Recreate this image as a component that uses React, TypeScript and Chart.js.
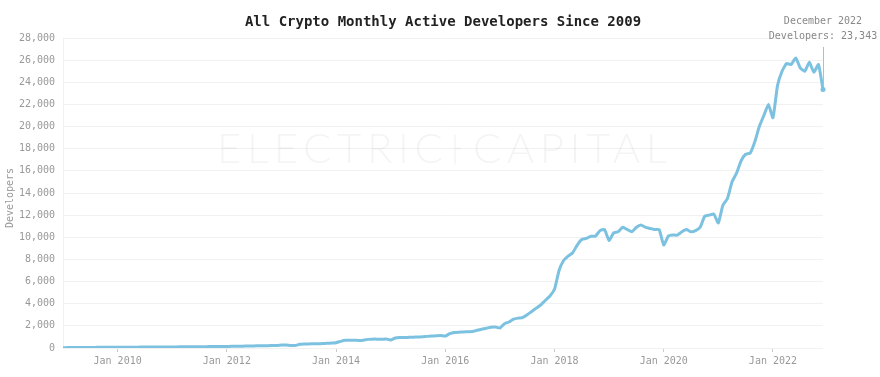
import React, { useEffect, useRef } from "react";
import { Chart, registerables } from "chart.js";

Chart.register(...registerables);

// ---- Data (monthly, Jan 2009 – Dec 2022) ----
const years = [2009, 2010, 2011, 2012, 2013, 2014, 2015, 2016, 2017, 2018, 2019, 2020, 2021, 2022];
const monthNames = ["Jan", "Feb", "Mar", "Apr", "May", "Jun", "Jul", "Aug", "Sep", "Oct", "Nov", "Dec"];
const fullMonthNames = ["January", "February", "March", "April", "May", "June", "July", "August", "September", "October", "November", "December"];

const devs2009 = [30, 35, 38, 40, 45, 48, 50, 55, 58, 60, 62, 65];
const devs2010 = [68, 70, 72, 75, 78, 80, 82, 85, 88, 90, 92, 95];
const devs2011 = [98, 100, 105, 110, 112, 115, 118, 120, 125, 130, 128, 132];
const devs2012 = [140, 150, 160, 165, 170, 180, 190, 195, 200, 210, 220, 230];
const devs2013 = [260, 280, 230, 220, 330, 360, 370, 380, 390, 400, 420, 450];
const devs2014 = [480, 600, 700, 690, 700, 680, 700, 780, 800, 800, 790, 810];
const devs2015 = [730, 900, 950, 940, 960, 980, 1000, 1010, 1050, 1080, 1100, 1120];
const devs2016 = [1080, 1300, 1400, 1430, 1450, 1470, 1490, 1600, 1700, 1780, 1880, 1900];
const devs2017 = [1800, 2200, 2350, 2600, 2700, 2750, 3000, 3300, 3600, 3900, 4300, 4700];
const devs2018 = [5300, 7000, 7900, 8300, 8600, 9300, 9800, 9900, 10100, 10100, 10600, 10700];
const devs2019 = [9700, 10400, 10500, 10900, 10700, 10500, 10900, 11100, 10900, 10800, 10700, 10700];
const devs2020 = [9300, 10100, 10200, 10200, 10500, 10700, 10500, 10600, 10900, 11900, 12000, 12100];
const devs2021 = [11300, 12900, 13500, 15000, 15800, 16900, 17500, 17600, 18600, 20000, 21000, 22000];
const devs2022 = [20800, 23700, 25000, 25700, 25600, 26200, 25300, 25000, 25800, 24900, 25600, 23343];

const yTicks = [0, 2000, 4000, 6000, 8000, 10000, 12000, 14000, 16000, 18000, 20000, 22000, 24000, 26000, 28000];

const categories: string[] = years.flatMap((y) => monthNames.map((m) => `${m} ${y}`));
const developers: number[] = [
  ...devs2009, ...devs2010, ...devs2011, ...devs2012, ...devs2013, ...devs2014, ...devs2015,
  ...devs2016, ...devs2017, ...devs2018, ...devs2019, ...devs2020, ...devs2021, ...devs2022,
];

const TITLE = "All Crypto Monthly Active Developers Since 2009";
const MONO = "'DejaVu Sans Mono', monospace";
const LINE_COLOR = "#7cc2e0";

export default function App() {
  const ref = useRef<HTMLCanvasElement | null>(null);

  useEffect(() => {
    if (!ref.current) return;
    const lastIdx = developers.length - 1;

    const overlay = {
      id: "overlay",
      beforeDatasetsDraw(chart: any) {
        const ctx = chart.ctx;
        const ca = chart.chartArea;
        ctx.save();
        ctx.fillStyle = "rgba(0,0,0,0.045)";
        ctx.font = "300 42px Lato, 'Open Sans', sans-serif";
        ctx.textBaseline = "middle";
        const cx = (ca.left + ca.right) / 2;
        const cy = ca.top + (ca.bottom - ca.top) * 0.36;
        const left = "ELECTRIC";
        const right = "CAPITAL";
        const fitDraw = (text: string, x: number, targetW: number) => {
          (ctx as any).letterSpacing = "0px";
          const w = ctx.measureText(text).width;
          const sp = (targetW - w) / (text.length - 1);
          (ctx as any).letterSpacing = `${sp}px`;
          ctx.textAlign = "left";
          ctx.fillText(text, x, cy);
        };
        fitDraw(left, cx - 226, 226);
        fitDraw(right, cx + 30, 194);
        (ctx as any).letterSpacing = "0px";
        ctx.strokeStyle = "rgba(0,0,0,0.045)";
        ctx.lineWidth = 1.5;
        ctx.beginPath();
        ctx.moveTo(cx + 12, cy - 15);
        ctx.lineTo(cx + 12, cy + 15);
        ctx.moveTo(cx + 12, cy - 1);
        ctx.lineTo(cx + 18, cy - 1);
        ctx.stroke();
        ctx.restore();
      },
      afterDraw(chart: any) {
        const ctx = chart.ctx;
        const ca = chart.chartArea;
        ctx.save();
        // Title
        ctx.fillStyle = "#222";
        ctx.font = `bold 14px ${MONO}`;
        ctx.textAlign = "center";
        ctx.textBaseline = "middle";
        ctx.fillText(TITLE, (ca.left + ca.right) / 2, 22);
        // Y axis title
        ctx.save();
        ctx.translate(10, (ca.top + ca.bottom) / 2 + 5);
        ctx.rotate(-Math.PI / 2);
        ctx.fillStyle = "#999";
        ctx.font = `10px ${MONO}`;
        ctx.textAlign = "center";
        ctx.textBaseline = "middle";
        ctx.fillText("Developers", 0, 0);
        ctx.restore();
        // Hover annotation on last point
        const meta = chart.getDatasetMeta(0);
        const pt = meta.data[lastIdx];
        const px = pt.x;
        const py = pt.y;
        ctx.strokeStyle = "#bbb";
        ctx.lineWidth = 1;
        ctx.beginPath();
        ctx.moveTo(Math.round(px) + 0.5, 47);
        ctx.lineTo(Math.round(px) + 0.5, py - 3);
        ctx.stroke();
        const lab = categories[lastIdx].split(" ");
        const monthFull = fullMonthNames[monthNames.indexOf(lab[0])];
        ctx.fillStyle = "#888";
        ctx.font = `10px ${MONO}`;
        ctx.textAlign = "center";
        ctx.fillText(`${monthFull} ${lab[1]}`, px, 21);
        ctx.fillText(`Developers: ${developers[lastIdx].toLocaleString("en-US")}`, px, 36);
        ctx.restore();
      },
    };

    const chart = new Chart(ref.current, {
      type: "line",
      data: {
        labels: categories,
        datasets: [
          {
            label: "Developers",
            data: developers,
            borderColor: LINE_COLOR,
            backgroundColor: LINE_COLOR,
            borderWidth: 3,
            tension: 0.15,
            pointRadius: developers.map((_, i) => (i === lastIdx ? 2.5 : 0)),
            pointBorderWidth: 0,
            pointBackgroundColor: LINE_COLOR,
            fill: false,
          },
        ],
      },
      options: {
        responsive: false,
        animation: false,
        layout: { padding: { top: 38, right: 57, left: 0, bottom: 0 } },
        plugins: {
          legend: { display: false },
          title: { display: false },
          tooltip: { enabled: false },
        },
        scales: {
          x: {
            type: "category",
            offset: false,
            afterFit(scale: any) {
              scale.height = 29;
            },
            grid: {
              display: true,
              drawOnChartArea: false,
              drawTicks: true,
              tickLength: 4,
              color: "#cccccc",
            },
            border: { display: false },
            ticks: {
              autoSkip: false,
              maxRotation: 0,
              minRotation: 0,
              padding: 3,
              color: "#999",
              font: { family: MONO, size: 10 },
              callback(_v: any, index: number) {
                const lab = categories[index];
                const [m, y] = lab.split(" ");
                const yr = parseInt(y, 10);
                if (m === "Jan" && yr >= 2010 && yr % 2 === 0) return `Jan ${yr}`;
                return null;
              },
            },
          },
          y: {
            min: 0,
            max: 28000,
            afterFit(scale: any) {
              scale.width = 63;
            },
            afterBuildTicks(scale: any) {
              scale.ticks = yTicks.map((v) => ({ value: v }));
            },
            grid: { color: "#f1f1f1", drawTicks: false, lineWidth: 1 },
            border: { display: true, color: "#f1f1f1" },
            ticks: {
              padding: 8,
              color: "#999",
              font: { family: MONO, size: 10 },
              callback(v: any) {
                return Number(v).toLocaleString("en-US");
              },
            },
          },
        },
      },
      plugins: [overlay],
    });

    return () => chart.destroy();
  }, []);

  return (
    <div style={{ position: "fixed", left: 0, top: 0, width: 880, height: 377, background: "#fff" }}>
      <canvas ref={ref} width={880} height={377} style={{ display: "block", width: 880, height: 377 }} />
    </div>
  );
}
